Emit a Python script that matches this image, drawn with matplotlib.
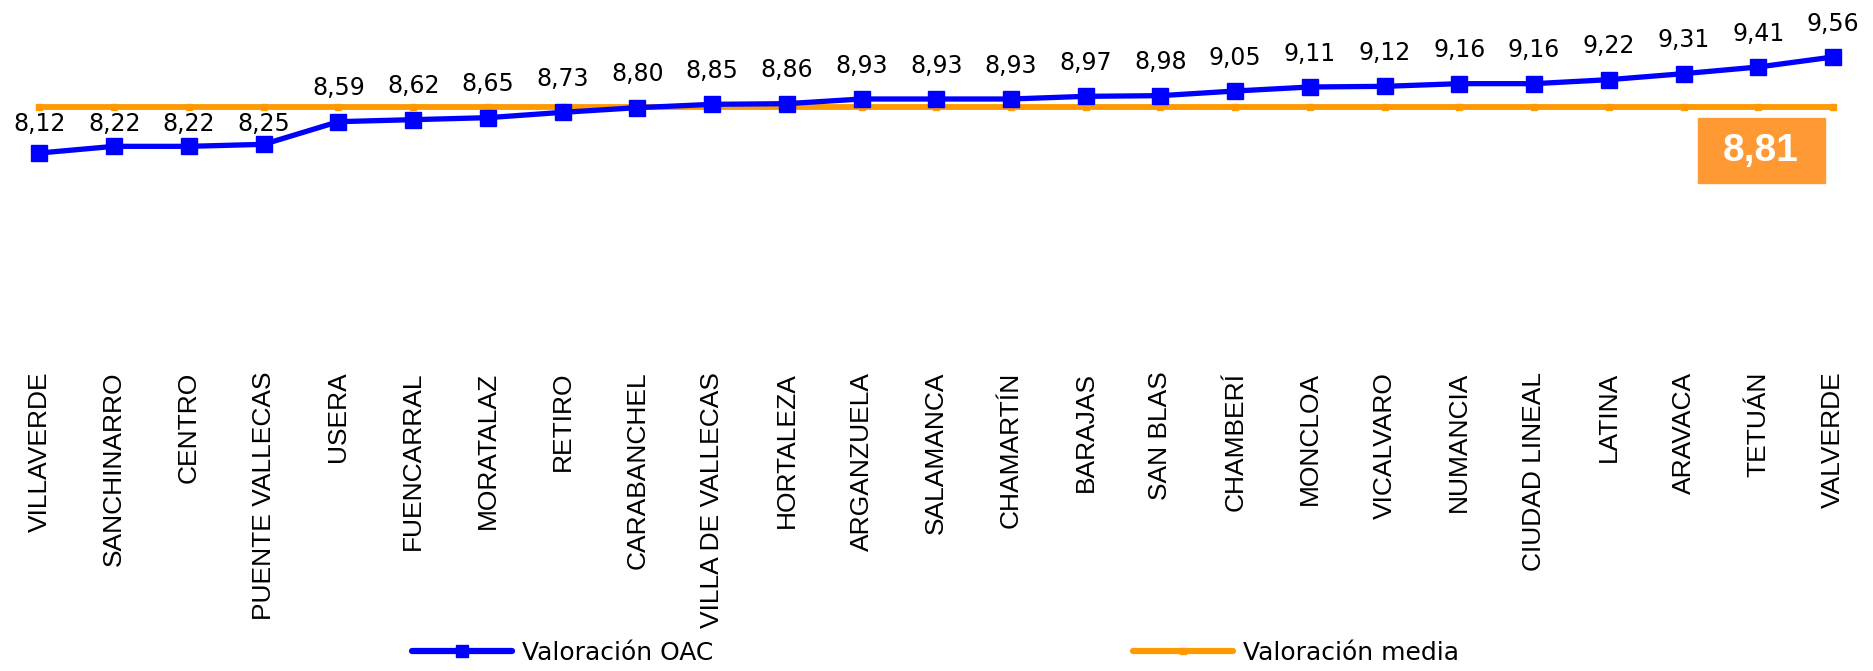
import matplotlib
matplotlib.use("Agg")
import matplotlib.pyplot as plt
from matplotlib import font_manager
from matplotlib.patches import Rectangle
from matplotlib.lines import Line2D

districts = ["VILLAVERDE", "SANCHINARRO", "CENTRO", "PUENTE VALLECAS", "USERA",
             "FUENCARRAL", "MORATALAZ", "RETIRO", "CARABANCHEL", "VILLA DE VALLECAS",
             "HORTALEZA", "ARGANZUELA", "SALAMANCA", "CHAMARTÍN", "BARAJAS",
             "SAN BLAS", "CHAMBERÍ", "MONCLOA", "VICALVARO", "NUMANCIA",
             "CIUDAD LINEAL", "LATINA", "ARAVACA", "TETUÁN", "VALVERDE"]
oac = [8.12, 8.22, 8.22, 8.25, 8.59, 8.62, 8.65, 8.73, 8.80, 8.85, 8.86, 8.93, 8.93,
       8.93, 8.97, 8.98, 9.05, 9.11, 9.12, 9.16, 9.16, 9.22, 9.31, 9.41, 9.56]
media = 8.81

names = {f.name for f in font_manager.fontManager.ttflist}
if "Liberation Sans Narrow" in names:
    tick_font, tick_size = "Liberation Sans Narrow", 22
    box_font = "Liberation Sans Narrow"
else:
    tick_font, tick_size = "Liberation Sans", 19
    box_font = "Liberation Sans"

W, H = 1874, 671
fig = plt.figure(figsize=(W / 100, H / 100), dpi=100)
ax = fig.add_axes([2.1 / W, 1 - 355 / H, 1868.3 / W, 355 / H])

x = list(range(len(districts)))
ax.plot(x, [media] * len(x), color="#FF9900", lw=4.2, marker="s", ms=4,
        solid_capstyle="round", zorder=2)
ax.plot(x, oac, color="#0000FF", lw=3.8, marker="s", ms=11, zorder=3)

for xi, v in zip(x, oac):
    txt = f"{v:.2f}".replace(".", ",")
    if media - v > 0.4:
        # label would hit the orange line: put it just under the line instead
        ax.annotate(txt, (xi, media), xytext=(0, -12), textcoords="offset points",
                    ha="center", va="center", fontsize=17, family="DejaVu Sans")
    else:
        ax.annotate(txt, (xi, v), xytext=(0, 24), textcoords="offset points",
                    ha="center", va="center", fontsize=17, family="DejaVu Sans")

ax.set_xlim(-0.5, len(x) - 0.5)
ax.set_ylim(5.09, 10.415)
ax.set_xticks(x)
ax.set_xticklabels(districts, rotation=90, family=tick_font, fontsize=tick_size)
ax.tick_params(axis="x", length=0, pad=12)
ax.set_yticks([])
for s in ax.spines.values():
    s.set_visible(False)

# average value box
fig.patches.append(Rectangle((1698 / W, 1 - 183 / H), 127 / W, 65 / H,
                             transform=fig.transFigure, color="#FF9933", zorder=5))
fig.text(1761 / W, 1 - 151 / H, f"{media:.2f}".replace(".", ","), color="white",
         fontsize=28, fontweight="bold", family=box_font, ha="center", va="center",
         zorder=6)

h_oac = Line2D([], [], color="#0000FF", lw=4.5, marker="s", ms=8,
               solid_capstyle="round")
h_media = Line2D([], [], color="#FF9900", lw=4.5, marker="s", ms=4,
                 solid_capstyle="round")
fig.legend([h_oac], ["Valoración OAC"], loc="center left",
           bbox_to_anchor=(412 / W, 1 - 653 / H), frameon=False, borderpad=0,
           borderaxespad=0, handlelength=4.0, handletextpad=0.4,
           prop={"family": "DejaVu Sans", "size": 18})
fig.legend([h_media], ["Valoración media"], loc="center left",
           bbox_to_anchor=(1133 / W, 1 - 653 / H), frameon=False, borderpad=0,
           borderaxespad=0, handlelength=4.0, handletextpad=0.4,
           prop={"family": "DejaVu Sans", "size": 18})

fig.savefig("out.png", dpi=100, facecolor="white")
